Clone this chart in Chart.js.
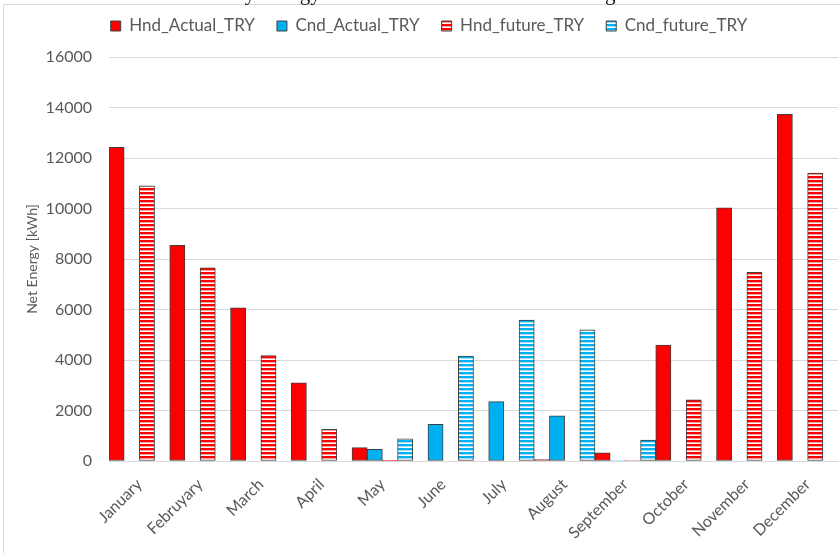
<!DOCTYPE html>
<html>
<head>
<meta charset="utf-8">
<script src="https://cdn.jsdelivr.net/npm/chart.js@4.4.0/dist/chart.umd.min.js"></script>
<style>
  html, body { margin: 0; padding: 0; background: #ffffff; }
  #wrap { width: 840px; height: 553px; }
</style>
</head>
<body>
<div id="wrap"><canvas id="chart" width="840" height="553"></canvas></div>
<script>
// Months on the category axis
const months = ['January', 'Februyary', 'March', 'April', 'May', 'June',
                'July', 'August', 'September', 'October', 'November', 'December'];

// Monthly net energy per series [kWh]
const hndActual = [12420, 8540, 6070, 3100, 530, 0, 0, 60, 320, 4590, 10030, 13730];
const cndActual = [0, 0, 0, 0, 460, 1450, 2350, 1790, 20, 0, 0, 0];
const hndFuture = [10900, 7650, 4180, 1250, 30, 0, 0, 0, 20, 2420, 7470, 11400];
const cndFuture = [0, 0, 0, 0, 880, 4160, 5580, 5190, 830, 0, 0, 0];

// Y axis range and step
const yMin = 0;
const yMax = 16000;
const yStep = 2000;

const seriesNames = ['Hnd_Actual_TRY', 'Cnd_Actual_TRY', 'Hnd_future_TRY', 'Cnd_future_TRY'];
const captionText = 'Monthly Energy Demand of the Modelled Building';

const RED = '#ff0000';
const BLUE = '#00b0f0';
const TEXT = '#595959';
const GRID = '#d9d9d9';
const FONT = 'Lato';

const canvas = document.getElementById('chart');
const ctx = canvas.getContext('2d');

// Horizontal stripe fill used by the "future" series
function stripes(color, soft) {
  const tile = document.createElement('canvas');
  tile.width = 8;
  tile.height = 4;
  const t = tile.getContext('2d');
  t.fillStyle = '#ffffff';
  t.fillRect(0, 0, 8, 4);
  t.fillStyle = color;
  t.fillRect(0, 0, 8, 2);
  t.fillStyle = soft;
  t.fillRect(0, 2, 8, 1);
  return ctx.createPattern(tile, 'repeat');
}

const redStripes = stripes(RED, '#ff9c9c');
const blueStripes = stripes(BLUE, '#9fe0f8');

// Light frame around the chart area and the caption line above it
const framePlugin = {
  id: 'framePlugin',
  beforeDraw(chart) {
    const c = chart.ctx;
    c.save();
    c.fillStyle = '#ffffff';
    c.fillRect(0, 0, chart.width, chart.height);
    c.strokeStyle = GRID;
    c.lineWidth = 1;
    c.beginPath();
    c.moveTo(3.5, chart.height);
    c.lineTo(3.5, 4.5);
    c.lineTo(chart.width, 4.5);
    c.stroke();
    c.font = '21px "Liberation Serif"';
    c.fillStyle = '#111111';
    c.textAlign = 'left';
    c.textBaseline = 'alphabetic';
    c.fillText(captionText, 183, -0.5);
    c.restore();
  }
};

const common = {
  borderColor: '#404040',
  borderWidth: 1,
  borderSkipped: false,
  categoryPercentage: 1.0,
  barPercentage: 1.0
};

new Chart(ctx, {
  type: 'bar',
  data: {
    labels: months,
    datasets: [
      Object.assign({ label: seriesNames[0], data: hndActual, backgroundColor: RED }, common),
      Object.assign({ label: seriesNames[1], data: cndActual, backgroundColor: BLUE }, common),
      Object.assign({ label: seriesNames[2], data: hndFuture, backgroundColor: redStripes }, common),
      Object.assign({ label: seriesNames[3], data: cndFuture, backgroundColor: blueStripes }, common)
    ]
  },
  options: {
    responsive: false,
    animation: false,
    devicePixelRatio: 1,
    layout: { padding: { top: -4.5, right: 2, bottom: 0, left: 20 } },
    plugins: {
      legend: {
        display: true,
        position: 'top',
        labels: {
          boxWidth: 10,
          boxHeight: 10,
          padding: 22,
          color: TEXT,
          font: { family: FONT, size: 17 }
        }
      },
      title: {
        display: true,
        text: ' ',
        weight: 0,
        padding: { top: 0, bottom: 11.5 },
        font: { size: 1, lineHeight: 1 }
      },
      tooltip: { enabled: false }
    },
    scales: {
      x: {
        grid: { display: false },
        border: { display: true, color: GRID, width: 1 },
        ticks: {
          color: TEXT,
          font: { family: FONT, size: 16 },
          minRotation: 45,
          maxRotation: 45,
          autoSkip: false,
          padding: 6
        },
        afterFit(scale) { scale.height = 92; }
      },
      y: {
        min: yMin,
        max: yMax,
        grid: { color: GRID, lineWidth: 1, drawTicks: false },
        border: { display: false },
        ticks: {
          stepSize: yStep,
          color: TEXT,
          font: { family: FONT, size: 16 },
          padding: 17,
          callback: (v) => String(v)
        },
        title: {
          display: true,
          text: 'Net Energy [kWh]',
          color: TEXT,
          font: { family: FONT, size: 14 },
          padding: { top: 4, bottom: 0 }
        },
        afterFit(scale) { scale.width = 89; }
      }
    }
  },
  plugins: [framePlugin]
});
</script>
</body>
</html>
